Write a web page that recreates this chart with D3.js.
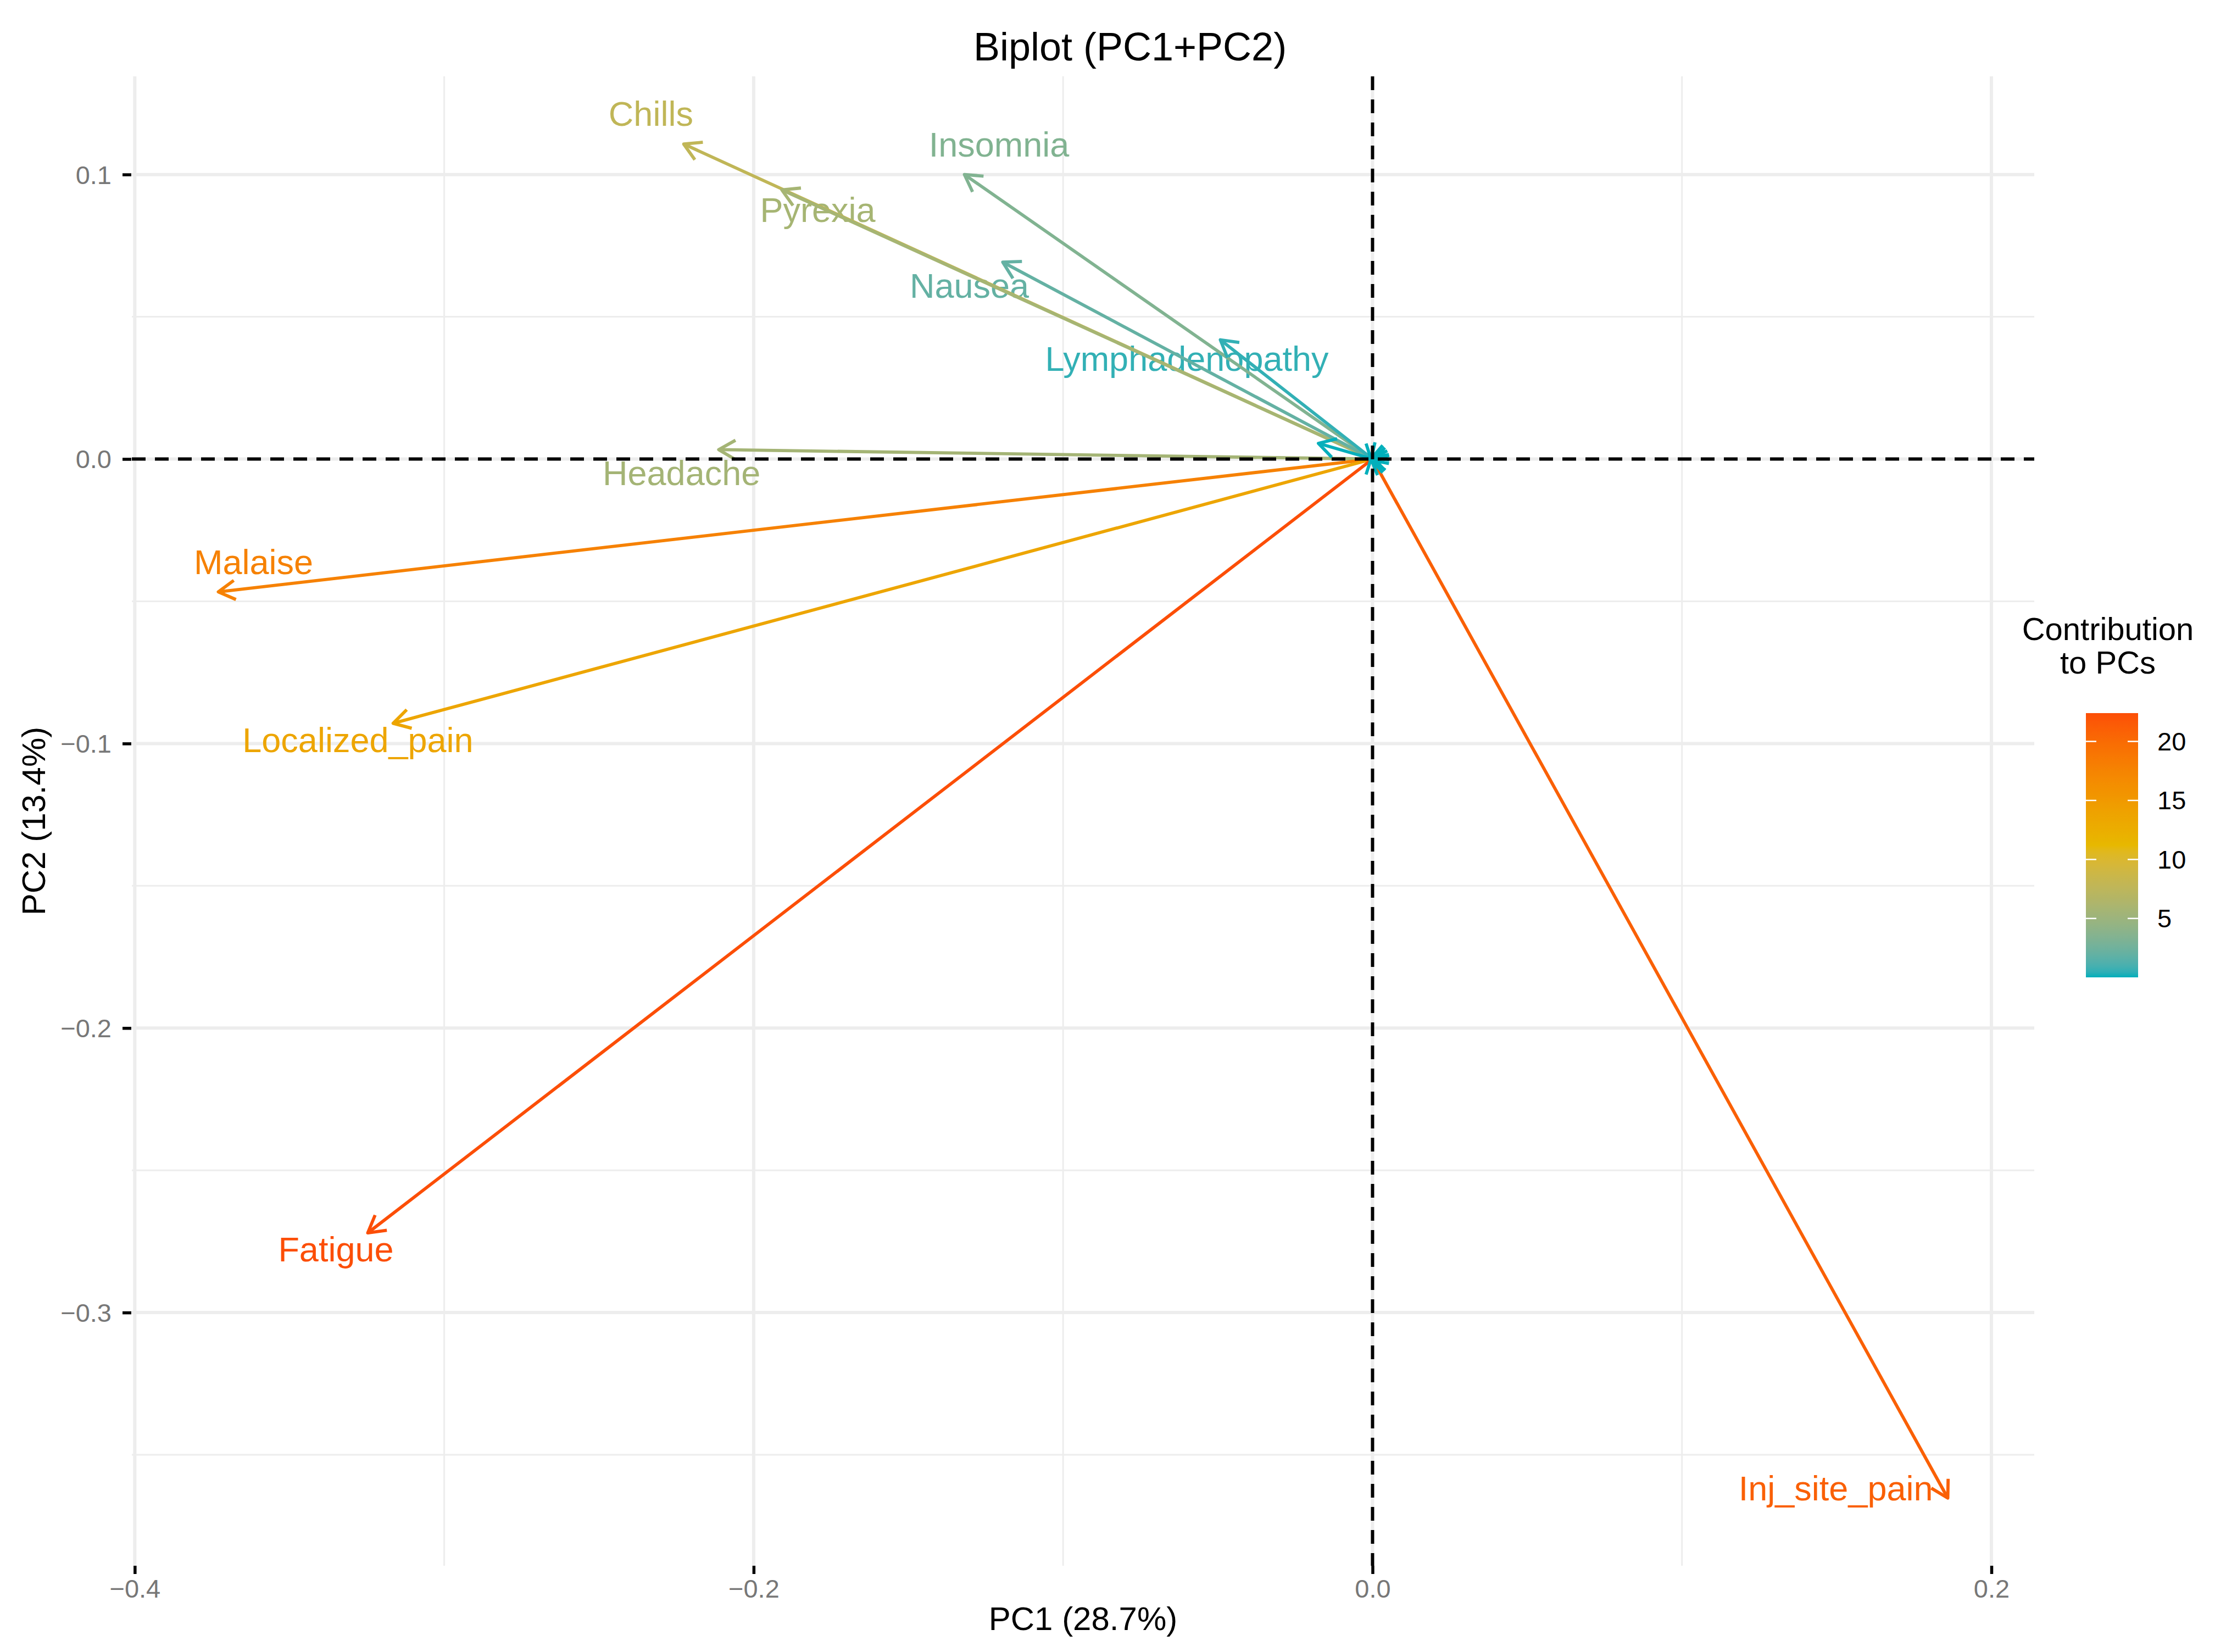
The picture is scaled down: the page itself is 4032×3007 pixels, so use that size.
<!DOCTYPE html>
<html><head><meta charset="utf-8">
<script src="https://cdn.jsdelivr.net/npm/d3@7"></script>
<style>
html,body{margin:0;padding:0;background:#fff;}
svg{display:block;font-family:"Liberation Sans",Arial,Helvetica,sans-serif;}
</style>
</head><body>
<svg id="chart" width="4032" height="3007"></svg>
<script>
// ---------------- data ----------------
const variables = ["Chills","Insomnia","Pyrexia","Nausea","Lymphadenopathy","Headache","Malaise","Localized_pain","Fatigue","Inj_site_pain"];
const pc1 = [-0.2226,-0.1319,-0.1909,-0.1195,-0.0492,-0.2113,-0.3730,-0.3165,-0.3247,0.1859];
const pc2 = [0.1107,0.1000,0.0946,0.0692,0.0419,0.0033,-0.0467,-0.0929,-0.2720,-0.3652];
const contrib = [7.7,3.4,5.7,2.0,0.5,5.6,17.7,13.6,22.4,21.0];
// repelled label anchors (data units)
const labelPC1 = [-0.2332,-0.1207,-0.1793,-0.1303,-0.0600,-0.2233,-0.3616,-0.3279,-0.3350,0.1497];
const labelPC2 = [0.1214,0.1106,0.0875,0.0610,0.0352,-0.0050,-0.0361,-0.0987,-0.2777,-0.3618];
// unlabeled variables with near-zero loadings
const minorPC1 = [-0.0175,-0.0009,-0.0002,-0.0002,-0.0007,-0.0006,-0.0008,-0.0008];
const minorPC2 = [0.0055,0.0001,0.0010,-0.0010,0.0006,-0.0007,0.0003,-0.0003];
const minorContrib = [0.04,0.01,0.01,0.01,0.01,0.01,0.01,0.01];

const xMajor = [-0.4,-0.2,0.0,0.2];
const xMinor = [-0.3,-0.1,0.1];
const yMajor = [0.1,0.0,-0.1,-0.2,-0.3];
const yMinor = [0.05,-0.05,-0.15,-0.25,-0.35];
const legendTicks = [5,10,15,20];
const gradientColors = ["#00AFBB","#E7B800","#FC4E07"];

const titleText = "Biplot (PC1+PC2)";
const xTitle = "PC1 (28.7%)";
const yTitle = "PC2 (13.4%)";
const legendTitle = ["Contribution","to PCs"];

// ---------------- layout ----------------
const W = 4032, H = 3007;
const panel = {left:240, right:3703, top:139, bottom:2850};
const svg = d3.select("#chart");
svg.append("rect").attr("width",W).attr("height",H).attr("fill","#fff");

const all1 = pc1.concat(minorPC1, [0]);
const all2 = pc2.concat(minorPC2, [0]);
function expand(ext){const r=ext[1]-ext[0];return [ext[0]-0.05*r, ext[1]+0.05*r];}
const x = d3.scaleLinear().domain(expand(d3.extent(all1))).range([panel.left,panel.right]);
const y = d3.scaleLinear().domain(expand(d3.extent(all2))).range([panel.bottom,panel.top]);

const allContrib = contrib.concat(minorContrib);
const cMin = d3.min(allContrib), cMax = d3.max(allContrib);
const color = d3.scaleLinear().domain([cMin,(cMin+cMax)/2,cMax]).range(gradientColors).interpolate(d3.interpolateLab);

const grid = "#EDEDED";
const g = svg.append("g");
g.selectAll(".xmin").data(xMinor).enter().append("line")
 .attr("x1",d=>x(d)).attr("x2",d=>x(d)).attr("y1",panel.top).attr("y2",panel.bottom)
 .attr("stroke",grid).attr("stroke-width",3);
g.selectAll(".ymin").data(yMinor).enter().append("line")
 .attr("y1",d=>y(d)).attr("y2",d=>y(d)).attr("x1",panel.left).attr("x2",panel.right)
 .attr("stroke",grid).attr("stroke-width",3);
g.selectAll(".xmaj").data(xMajor).enter().append("line")
 .attr("x1",d=>x(d)).attr("x2",d=>x(d)).attr("y1",panel.top).attr("y2",panel.bottom)
 .attr("stroke",grid).attr("stroke-width",6);
g.selectAll(".ymaj").data(yMajor).enter().append("line")
 .attr("y1",d=>y(d)).attr("y2",d=>y(d)).attr("x1",panel.left).attr("x2",panel.right)
 .attr("stroke",grid).attr("stroke-width",6);

// axes
const fmt = d3.format(".1f");
const xAxis = svg.append("g").attr("transform",`translate(0,${panel.bottom})`)
 .call(d3.axisBottom(x).tickValues(xMajor).tickFormat(fmt).tickSize(15).tickPadding(10));
const yAxis = svg.append("g").attr("transform",`translate(${panel.left - 1},0)`)
 .call(d3.axisLeft(y).tickValues(yMajor).tickFormat(fmt).tickSize(16).tickPadding(20));
[xAxis,yAxis].forEach(a=>{
  a.select(".domain").remove();
  a.selectAll(".tick line").attr("stroke","#000").attr("stroke-width",5.5);
  a.selectAll(".tick text").attr("fill","#777").attr("font-size",47)
    .attr("font-family",'"Liberation Sans",Arial,Helvetica,sans-serif');
});
yAxis.selectAll(".tick text").attr("dy","0.35em");

// labels (beneath arrows)
const labelG = svg.append("g");
variables.forEach((v,i)=>{
  labelG.append("text").attr("x",x(labelPC1[i])).attr("y",y(labelPC2[i]))
   .attr("dy","0.35em").attr("text-anchor","middle").attr("font-size",63)
   .attr("fill",color(contrib[i])).text(v);
});

// arrows
const arrowG = svg.append("g").attr("fill","none");
const headLen = 35, headAng = Math.PI/6, lw = 5.8;
function drawArrow(a,b,c){
  const ox=x(0), oy=y(0), tx=x(a), ty=y(b);
  const ang=Math.atan2(ty-oy,tx-ox);
  const col=color(c);
  arrowG.append("line").attr("x1",ox).attr("y1",oy).attr("x2",tx).attr("y2",ty)
   .attr("stroke",col).attr("stroke-width",lw);
  const p1=[tx+headLen*Math.cos(ang+Math.PI-headAng), ty+headLen*Math.sin(ang+Math.PI-headAng)];
  const p2=[tx+headLen*Math.cos(ang+Math.PI+headAng), ty+headLen*Math.sin(ang+Math.PI+headAng)];
  arrowG.append("path").attr("d",`M${p1[0]},${p1[1]}L${tx},${ty}L${p2[0]},${p2[1]}`)
   .attr("stroke",col).attr("stroke-width",lw).attr("stroke-linejoin","round");
}
pc1.forEach((v,i)=>drawArrow(pc1[i],pc2[i],contrib[i]));
minorPC1.forEach((v,i)=>drawArrow(minorPC1[i],minorPC2[i],minorContrib[i]));

// reference dashed lines
svg.append("line").attr("x1",panel.left).attr("x2",panel.right).attr("y1",y(0)).attr("y2",y(0))
 .attr("stroke","#000").attr("stroke-width",6).attr("stroke-dasharray","25,17");
svg.append("line").attr("y1",panel.top).attr("y2",panel.bottom).attr("x1",x(0)).attr("x2",x(0))
 .attr("stroke","#000").attr("stroke-width",6).attr("stroke-dasharray","25,17");

// titles
svg.append("text").attr("x",2057).attr("y",110).attr("text-anchor","middle")
 .attr("font-size",72).attr("fill","#000").text(titleText);
svg.append("text").attr("x",(panel.left+panel.right)/2).attr("y",2967).attr("text-anchor","middle")
 .attr("font-size",60).attr("fill","#000").text(xTitle);
svg.append("text").attr("transform",`translate(82,${(panel.top+panel.bottom)/2}) rotate(-90)`)
 .attr("text-anchor","middle").attr("font-size",60).attr("fill","#000").text(yTitle);

// legend
const leg = {x:3797, w:95, top:1298, bottom:1779, cx:3837};
const defs = svg.append("defs");
const grad = defs.append("linearGradient").attr("id","cgrad").attr("x1",0).attr("y1",1).attr("x2",0).attr("y2",0);
d3.range(0,1.0001,0.02).forEach(t=>{
  grad.append("stop").attr("offset",t).attr("stop-color",color(cMin+t*(cMax-cMin)));
});
svg.append("rect").attr("x",leg.x).attr("y",leg.top).attr("width",leg.w).attr("height",leg.bottom-leg.top)
 .attr("fill","url(#cgrad)");
const ly = d3.scaleLinear().domain([cMin,cMax]).range([leg.bottom,leg.top]);
legendTicks.forEach(t=>{
  svg.append("line").attr("x1",leg.x).attr("x2",leg.x+19).attr("y1",ly(t)).attr("y2",ly(t))
   .attr("stroke","#fff").attr("stroke-width",2.5);
  svg.append("line").attr("x1",leg.x+leg.w-19).attr("x2",leg.x+leg.w).attr("y1",ly(t)).attr("y2",ly(t))
   .attr("stroke","#fff").attr("stroke-width",2.5);
  svg.append("text").attr("x",3927).attr("y",ly(t)).attr("dy","0.35em").attr("font-size",47)
   .attr("fill","#000").text(t);
});
legendTitle.forEach((s,i)=>{
  svg.append("text").attr("x",leg.cx).attr("y",1165+i*61).attr("text-anchor","middle")
   .attr("font-size",58).attr("fill","#000").text(s);
});
</script>
</body></html>
